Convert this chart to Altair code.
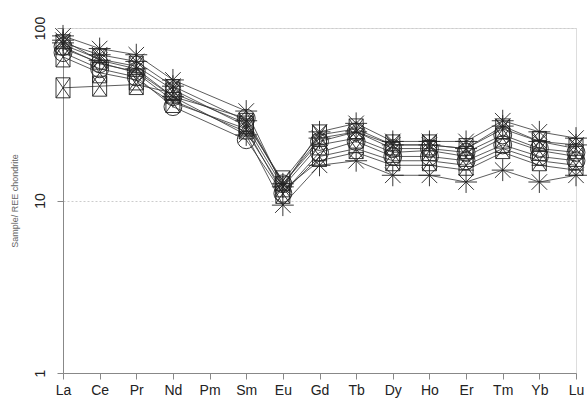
import altair as alt
import pandas as pd

elements = ["La", "Ce", "Pr", "Nd", "Pm", "Sm", "Eu", "Gd", "Tb", "Dy", "Ho", "Er", "Tm", "Yb", "Lu"]
measured = ["La", "Ce", "Pr", "Nd", "Sm", "Eu", "Gd", "Tb", "Dy", "Ho", "Er", "Tm", "Yb", "Lu"]

s1 = [90, 76, 70, 50, 33, 12.0, 25, 28, 22, 22, 22, 29, 25, 23]
s2 = [85, 65, 58, 40, 24, 9.4, 16, 17, 14, 14, 12.8, 15, 12.8, 14]
s3 = [45, 46, 47, 42, 28, 13.0, 24, 26, 21, 21, 20, 26, 22, 20]
s4 = [72, 58, 52, 35, 22.5, 11.0, 19, 22, 18, 18, 17, 21, 18, 17]
s5 = [78, 62, 56, 40, 30, 12.5, 22, 25, 20, 20, 19, 24, 20, 19]
s6 = [80, 66, 60, 44, 27, 12.0, 21, 23, 19, 19.5, 18, 23, 19.5, 18]
s7 = [76, 63, 55, 38, 25, 11.5, 17, 19, 16, 16, 15, 19, 16, 15]
s8 = [68, 55, 50, 37, 26, 11.0, 18, 20, 17, 17, 16, 20, 17, 16]
s9 = [82, 70, 64, 46, 29, 12.5, 23, 25, 21, 21, 20, 27, 22, 21]

series_values = [s1, s2, s3, s4, s5, s6, s7, s8, s9]
series_markers = ["asterisk", "asterisk", "boxx", "circle", "circle", "boxx", "dash", "boxx", "asterisk"]

rows = []
for i, (vals, mk) in enumerate(zip(series_values, series_markers)):
    for el, v in zip(measured, vals):
        rows.append({"sample": f"S{i+1}", "element": el, "value": v, "marker": mk})
df = pd.DataFrame(rows)

marker_domain = ["asterisk", "boxx", "circle", "dash"]
marker_paths = [
    "M-1,0L1,0M0,-1L0,1M-0.71,-0.71L0.71,0.71M-0.71,0.71L0.71,-0.71",
    "M-0.7,-1L0.7,-1L0.7,1L-0.7,1Z M-0.7,-1L0.7,1M0.7,-1L-0.7,1",
    "circle",
    "M-1,0L1,0",
]
marker_sizes = [480, 240, 150, 60]

xenc = alt.X("element:N", scale=alt.Scale(domain=elements, type="point", padding=0),
             sort=elements,
             axis=alt.Axis(title=None, labelAngle=0, labelFontSize=14, labelColor="#222",
                           labelFont="Liberation Sans", tickSize=6, tickColor="#888",
                           domainColor="#888", labelPadding=4, grid=False))
yenc = alt.Y("value:Q", scale=alt.Scale(type="log", domain=[1, 100], nice=False),
             axis=alt.Axis(title="Sample/ REE chondrite", titleFontSize=9, titleFontWeight="normal",
                           titleColor="#666", titleFont="Liberation Sans", titlePadding=14,
                           values=[1, 10, 100], labelAngle=-90, labelAlign="center",
                           labelBaseline="bottom", labelFontSize=14, labelColor="#222",
                           labelFont="Liberation Sans", tickSize=6, tickColor="#888",
                           domainColor="#888", labelPadding=10,
                           grid=True, gridColor="#ccc", gridDash=[2, 2], gridWidth=1))

lines = alt.Chart(df).mark_line(color="#333", strokeWidth=0.8).encode(
    x=xenc, y=yenc, detail="sample:N", order=alt.Order("order:Q")
).transform_calculate(order="indexof(" + str(elements) + ", datum.element)")

points = alt.Chart(df).mark_point(filled=False, color="#222", strokeWidth=0.9, opacity=1).encode(
    x=xenc, y=yenc,
    shape=alt.Shape("marker:N", scale=alt.Scale(domain=marker_domain, range=marker_paths), legend=None),
    size=alt.Size("marker:N", scale=alt.Scale(domain=marker_domain, range=marker_sizes), legend=None),
)

chart = (lines + points).properties(
    width=513, height=345,
    autosize=alt.AutoSizeParams(type="none"),
    padding={"left": 63, "top": 28, "right": 12, "bottom": 32},
).configure_view(stroke="#999", strokeWidth=1).configure(background="white")

chart.save("out.html", embed_options={"renderer": "svg", "actions": False})
